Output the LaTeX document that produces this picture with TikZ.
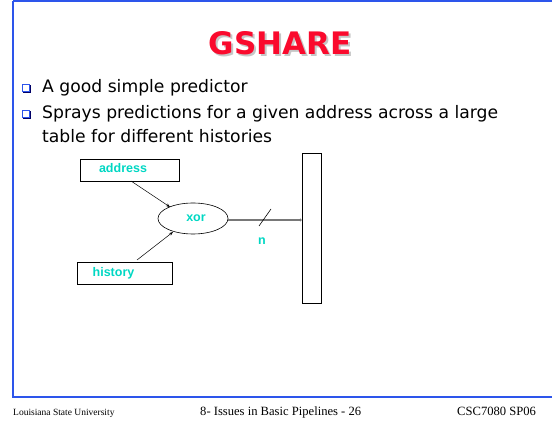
\documentclass[tikz,border=0pt]{standalone}
\usepackage{fontspec}
\setmainfont{Liberation Serif}
\newfontfamily\bodyfont{DejaVu Sans}
\newfontfamily\labelfont{Liberation Sans}
\usetikzlibrary{arrows.meta,shapes.geometric}
\definecolor{framebl}{RGB}{45,85,235}
\definecolor{titlered}{RGB}{250,10,45}
\definecolor{labelcyan}{RGB}{0,215,195}
\definecolor{wiregray}{RGB}{120,120,120}
\tikzset{
  frameline/.style={draw=framebl, line width=2pt},
  boxed/.style={draw=black, line width=0.6pt, rectangle, inner sep=0pt},
  lbl/.style={font=\labelfont\bfseries\fontsize{12.5}{14}\selectfont, text=labelcyan, inner sep=0pt},
  bodytext/.style={font=\bodyfont\fontsize{17.2}{20}\selectfont, anchor=base west, inner sep=0pt},
  bulletbox/.style={draw=framebl, line width=0.9pt, fill=white, minimum size=7pt, inner sep=0pt},
  feed/.style={-{Stealth[length=4pt,width=3pt]}, line width=0.5pt},
  foot/.style={anchor=base west, inner sep=0pt}
}
\begin{document}
\begin{tikzpicture}[x=1pt,y=-1pt]
\useasboundingbox (0,0) rectangle (552,427);
% slide frame
\draw[frameline] (13,1) -- (13,397) -- (560,397);
\draw[frameline] (13,1) -- (560,1);
% title with shadow
\node[font=\bodyfont\bfseries\fontsize{31}{36}\selectfont, text=gray!45] (titleshadow) at (282,45) {GSHARE};
\node[font=\bodyfont\bfseries\fontsize{31}{36}\selectfont, text=titlered] (title) at (280,43) {GSHARE};
% bullets
\fill[blue!40!black] (23,85) rectangle (31,93);
\node[bulletbox] (b1) at (26,88) {};
\node[bodytext] (t1) at (42,93) {A good simple predictor};
\fill[blue!40!black] (23,111) rectangle (31,119);
\node[bulletbox] (b2) at (26,114) {};
\node[bodytext] (t2) at (42,119) {Sprays predictions for a given address across a large};
\node[bodytext] (t3) at (42,143) {table for different histories};
% diagram
\node[boxed, minimum width=99pt, minimum height=22pt] (addr) at (129.5,170) {};
\node[lbl] (addrl) at (123,168) {address};
\node[boxed, minimum width=95pt, minimum height=22pt] (hist) at (124.5,273) {};
\node[lbl] (histl) at (113.5,273) {history};
\node[draw=black, line width=0.6pt, ellipse, minimum width=70pt, minimum height=31pt, inner sep=0pt] (xor) at (193,218.5) {};
\node[lbl] (xorl) at (196,218) {xor};
\node[boxed, minimum width=19pt, minimum height=150pt] (table) at (311.5,228) {};
\coordinate (addrout) at (131,181);
\coordinate (xorin1) at (170,207);
\coordinate (histout) at (137,260);
\coordinate (xorin2) at (173,232);
\draw[feed] (addrout) -- (xorin1);
\draw[feed] (histout) -- (xorin2);
\coordinate (tin) at (table.west |- 0,220);
\draw[wiregray, line width=1.2pt, -{Circle[length=2.5pt,fill=black]}] (xor.east |- 0,220) -- (tin);
\coordinate (s1) at (259,226);
\coordinate (s2) at (271,209);
\draw[black, line width=0.6pt] (s1) -- (s2);
\node[lbl] (nl) at (262,241) {n};
% footer
\node[foot, font=\fontsize{9.5}{11}\selectfont] (f1) at (13,416) {Louisiana State University};
\node[foot, font=\fontsize{12.6}{14}\selectfont] (f2) at (200,416) {8- Issues in Basic Pipelines - 26};
\node[foot, font=\fontsize{12.6}{14}\selectfont] (f3) at (457,416) {CSC7080 SP06};
\end{tikzpicture}
\end{document}
